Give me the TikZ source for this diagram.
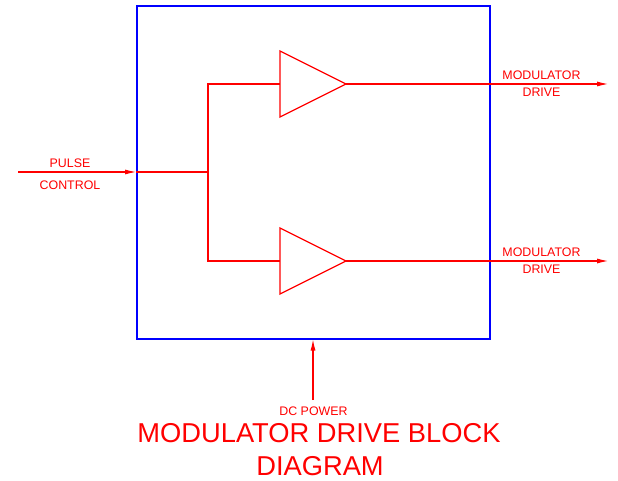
\documentclass[tikz,border=0pt]{standalone}
\usepackage{fontspec}
\setmainfont{Liberation Sans}
\usetikzlibrary{arrows.meta,shapes.geometric}
\definecolor{lred}{RGB}{255,0,0}
\definecolor{lblue}{RGB}{0,0,255}
\tikzset{
  wire/.style={draw=lred,line width=1.5pt},
  flow/.style={wire,-{Latex[length=12pt,width=5pt]},shorten >=-1pt},
  amp/.style={isosceles triangle,isosceles triangle stretches,draw=lred,line width=1.3pt,fill=none,
    minimum width=66pt,minimum height=66pt,inner sep=0pt,outer sep=0pt,anchor=lower side},
  lbl/.style={text=lred,font=\fontsize{12.4pt}{13pt}\selectfont,inner sep=0pt},
  ttl/.style={text=lred,font=\fontsize{27.3pt}{30pt}\selectfont,inner sep=0pt}
}
\begin{document}
\begin{tikzpicture}[x=1pt,y=-1pt]
\useasboundingbox (0,0) rectangle (618,481);
\node[draw=lblue,line width=1.6pt,minimum width=353pt,minimum height=333pt,inner sep=0pt,outer sep=0pt] (box) at (313.5,172.5) {};
\node[amp] (a1) at (280,84) {};
\node[amp] (a2) at (280,261) {};
\coordinate (pin) at (18,172);
\coordinate (jn) at (208,172);
\coordinate (o1) at (608,84);
\coordinate (o2) at (608,261);
\coordinate (dc) at (313,400);
\coordinate (boxb) at (313,339.5);
\coordinate (boxl) at (136,172);
\draw[flow] (pin) -- (boxl);
\draw[wire] (boxl) -- (jn);
\draw[wire,line join=miter] (a1.lower side) -| (jn) |- (a2.lower side);
\draw[flow] (a1.apex) -- (o1);
\draw[flow] (a2.apex) -- (o2);
\draw[flow] (dc) -- (boxb);
\node[lbl] (l1) at (70,163.5) {PULSE};
\node[lbl] (l2) at (70,185) {CONTROL};
\node[lbl] (l3) at (541.5,75) {MODULATOR};
\node[lbl] (l4) at (541.5,92) {DRIVE};
\node[lbl] (l5) at (541.5,252) {MODULATOR};
\node[lbl] (l6) at (541.5,269.5) {DRIVE};
\node[lbl] (l7) at (313.5,411) {DC POWER};
\node[ttl] (t1) at (319,433.5) {MODULATOR DRIVE BLOCK};
\node[ttl] (t2) at (320,466.5) {DIAGRAM};
\end{tikzpicture}
\end{document}
